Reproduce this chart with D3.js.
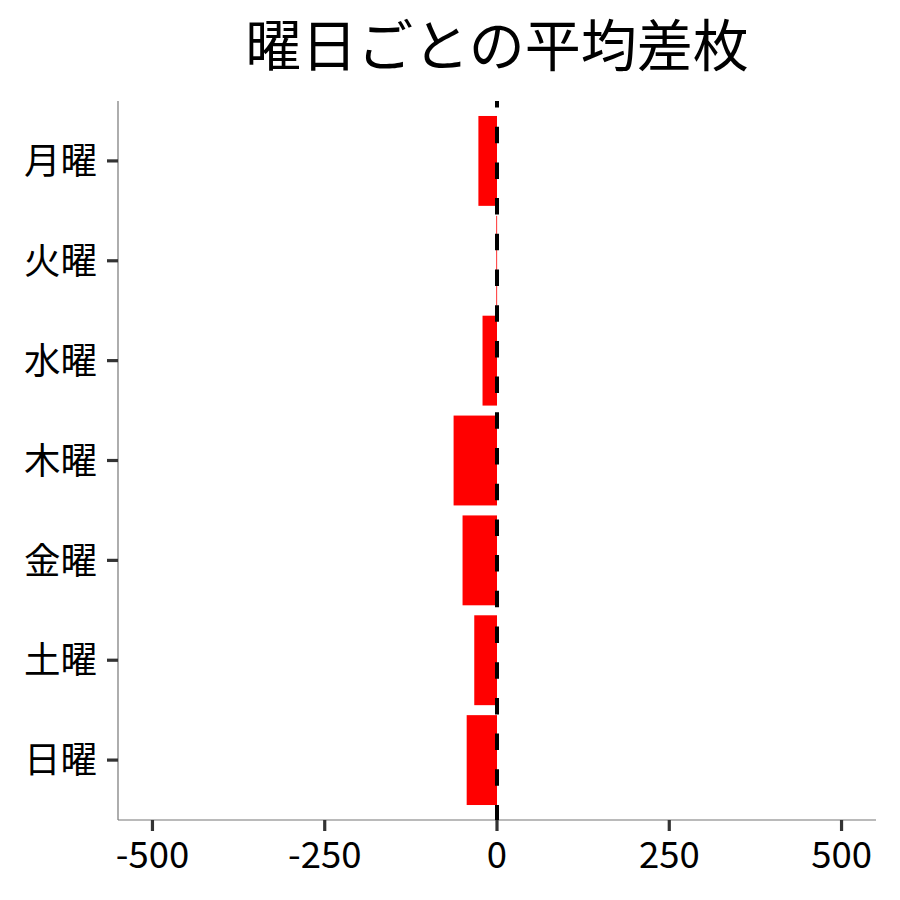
<!DOCTYPE html>
<html><head><meta charset="utf-8">
<script src="https://cdn.jsdelivr.net/npm/d3@7"></script>
<style>body{margin:0;background:#fff}</style>
</head><body>
<svg id="c" width="900" height="900"></svg>
<script>
const days = ["月曜","火曜","水曜","木曜","金曜","土曜","日曜"];
const avgDiff = [-27, -1, -21, -63, -50, -33, -44];
const xTicks = [-500, -250, 0, 250, 500];
const titleText = "曜日ごとの平均差枚";

const font = "'Noto Sans CJK JP', 'Noto Sans', sans-serif";
const svg = d3.select("#c");
const L = 118, R = 876, T = 101, B = 820;

const x = d3.scaleLinear().domain([-550, 550]).range([L, R]);
const yc = d3.scaleLinear().domain([0.4, 7.6]).range([T, B]);
const bw = (yc(1) - yc(0)) * 0.9;

svg.append("text").attr("x", (L + R) / 2).attr("y", 66)
  .attr("text-anchor", "middle").attr("font-family", font).attr("font-size", 56)
  .attr("fill", "#000").text(titleText);

svg.selectAll("rect.bar").data(days).join("rect").attr("class", "bar")
  .attr("x", (d, i) => Math.min(x(avgDiff[i]), x(0)))
  .attr("width", (d, i) => Math.max(Math.abs(x(avgDiff[i]) - x(0)), 0.8))
  .attr("y", (d, i) => yc(i + 1) - bw / 2)
  .attr("height", bw)
  .attr("fill", "#ff0000");

// axes lines
svg.append("line").attr("x1", L).attr("x2", L).attr("y1", T).attr("y2", B)
  .attr("stroke", "#777").attr("stroke-width", 1.2);
svg.append("line").attr("x1", L).attr("x2", R).attr("y1", B).attr("y2", B)
  .attr("stroke", "#777").attr("stroke-width", 1.2);

// zero dashed line
svg.append("line").attr("x1", x(0)).attr("x2", x(0)).attr("y1", T).attr("y2", B)
  .attr("stroke", "#000").attr("stroke-width", 4).attr("stroke-dasharray", "16.5,19.2")
  .attr("stroke-dashoffset", 10);

// y ticks
days.forEach((d, i) => {
  svg.append("line").attr("x1", L - 11).attr("x2", L).attr("y1", yc(i + 1)).attr("y2", yc(i + 1))
    .attr("stroke", "#333").attr("stroke-width", 3.2);
  svg.append("text").attr("x", L - 21).attr("y", yc(i + 1)).attr("dy", "0.36em")
    .attr("text-anchor", "end").attr("font-family", font).attr("font-size", 36.5)
    .attr("fill", "#000").text(d);
});

// x ticks
xTicks.forEach(t => {
  svg.append("line").attr("x1", x(t)).attr("x2", x(t)).attr("y1", B).attr("y2", B + 11)
    .attr("stroke", "#333").attr("stroke-width", 3.2);
  svg.append("text").attr("x", x(t)).attr("y", B + 48)
    .attr("text-anchor", "middle").attr("font-family", font).attr("font-size", 36.5)
    .attr("fill", "#000").text(t);
});
</script>
</body></html>
